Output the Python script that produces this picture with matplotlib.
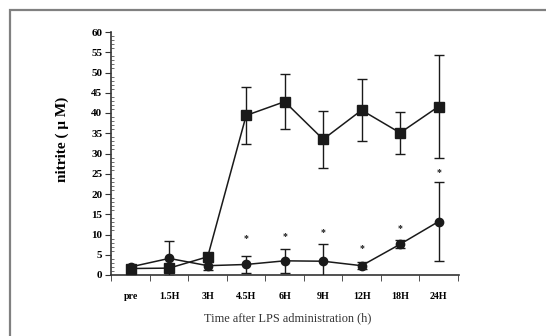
import matplotlib
matplotlib.use("Agg")
import matplotlib.pyplot as plt
from matplotlib.patches import Rectangle
from matplotlib.ticker import MultipleLocator, FixedLocator

# time points after LPS
categories = ["pre", "1.5H", "3H", "4.5H", "6H", "9H", "12H", "18H", "24H"]

# LPS group (squares)
lps_mean = [1.6, 1.7, 4.5, 39.4, 42.8, 33.5, 40.7, 35.1, 41.6]
lps_err = [0.7, 0.8, 0.8, 7.1, 6.8, 7.0, 7.7, 5.1, 12.7]

# treated group (circles)
trt_mean = [2.0, 4.1, 2.3, 2.6, 3.5, 3.4, 2.3, 7.6, 13.2]
trt_err = [0.5, 4.3, 1.0, 2.1, 3.0, 4.3, 0.8, 1.0, 9.7]

# significance marks
sig_idx = [3, 4, 5, 6, 7, 8]
sig_y = [8.9, 9.6, 10.6, 6.5, 11.4, 25.3]

serif = ["Liberation Serif", "DejaVu Serif"]

fig = plt.figure(figsize=(5.46, 3.36), dpi=100)
fig.patch.set_facecolor("white")

# outer frame of the scanned figure
fig.add_artist(Rectangle((10 / 546, -0.2), 1.2, 1.2 - 10 / 336,
                         transform=fig.transFigure, fill=False,
                         edgecolor="#808080", linewidth=1.6))

ax = fig.add_axes([110.7 / 546, 1 - 275 / 336, (459 - 110.7) / 546, (275 - 32) / 336])

x = list(range(len(categories)))

ax.errorbar(x, lps_mean, yerr=lps_err, color="#1a1a1a", marker="s", markersize=6.5,
            linewidth=1.1, elinewidth=1.0, capsize=3.5, capthick=1.0, zorder=3)
ax.errorbar(x, trt_mean, yerr=trt_err, color="#1a1a1a", marker="o", markersize=6,
            linewidth=1.1, elinewidth=1.0, capsize=3.5, capthick=1.0, zorder=3)

for i, yv in zip(sig_idx, sig_y):
    ax.text(x[i], yv, "*", ha="center", va="center", fontsize=7,
            family=serif, fontweight="bold", color="#1a1a1a")

ax.set_xlim(-0.52, 8.53)
ax.set_ylim(0, 60)

ax.spines["top"].set_visible(False)
ax.spines["right"].set_visible(False)
for s in ("left", "bottom"):
    ax.spines[s].set_linewidth(1.2)
    ax.spines[s].set_color("#333333")

ax.set_xticks(x)
ax.set_xticklabels(categories, family=serif, fontweight="bold", fontsize=7.2)
ax.xaxis.set_minor_locator(FixedLocator([k + 0.5 for k in range(-1, 9)]))
ax.tick_params(axis="x", which="major", length=0, pad=12)
ax.tick_params(axis="x", which="minor", length=4, direction="out", color="#333333")

ax.yaxis.set_major_locator(MultipleLocator(5))
ax.yaxis.set_minor_locator(MultipleLocator(1))
ax.tick_params(axis="y", which="major", length=4, direction="out", pad=2,
               labelsize=8, color="#333333")
ax.tick_params(axis="y", which="minor", length=2.5, direction="in", color="#555555")
for lab in ax.get_yticklabels():
    lab.set_family(serif)
    lab.set_fontweight("bold")

ax.set_ylabel("nitrite ( \u03bc M)", family=serif, fontweight="bold", fontsize=11)
ax.yaxis.set_label_coords(-0.12, 0.56)
ax.set_xlabel("Time after LPS administration (h)", family=serif, fontsize=8.8,
              color="#333333")
ax.xaxis.set_label_coords(0.509, -0.155)

fig.savefig("out.png", dpi=100)
